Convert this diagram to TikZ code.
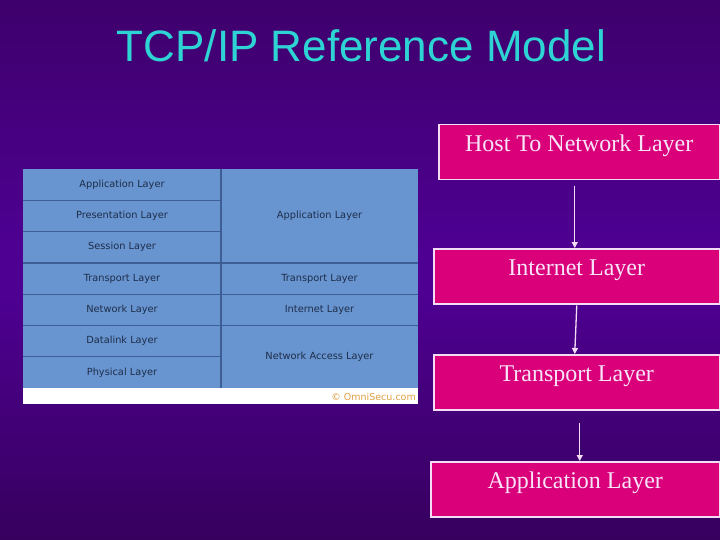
\documentclass[tikz,border=0pt]{standalone}
\usepackage{fontspec}
\setmainfont{Liberation Serif}
\newfontfamily\titlefont{Liberation Sans}
\newfontfamily\tabfont{DejaVu Sans}
\usetikzlibrary{arrows.meta}
\definecolor{bgtop}{HTML}{3E006C}
\definecolor{bgmid}{HTML}{4E0092}
\definecolor{bgbot}{HTML}{37005E}
\definecolor{titlecyan}{HTML}{2ED3D3}
\definecolor{tabfill}{HTML}{6895D0}
\definecolor{tabline}{HTML}{3D5F95}
\definecolor{tabtext}{HTML}{1E2D4A}
\definecolor{copyc}{HTML}{E0A040}
\definecolor{pinkfill}{HTML}{D9007A}
\definecolor{pinkline}{HTML}{F4DCF4}
\definecolor{pinktext}{HTML}{F8E4F8}
\tikzset{
  pbox/.style={draw=pinkline, line width=1.5pt, fill=pinkfill, text=pinktext,
    font=\fontsize{24}{27}\selectfont, inner xsep=0pt, inner ysep=0pt,
    text height=27pt, text depth=28pt, anchor=north west},
  flow/.style={draw=pinkline, line width=1.3pt, -{Triangle[length=6pt,width=6pt]}},
  tabtxt/.style={text=tabtext, font=\tabfont\fontsize{9.8}{11}\selectfont, inner sep=0pt},
  tabrule/.style={draw=tabline, line width=1.2pt}
}
\begin{document}
\begin{tikzpicture}[x=1pt,y=-1pt]
\useasboundingbox (0,0) rectangle (720,540);
\shade[top color=bgtop, bottom color=bgmid] (0,0) rectangle (720,250);
\fill[bgmid] (0,249) rectangle (720,291);
\shade[top color=bgmid, bottom color=bgbot] (0,290) rectangle (720,540);
% title
\node[text=titlecyan, font=\titlefont\fontsize{44}{50}\selectfont] (title) at (361.5,45.5) {TCP/IP Reference Model};
% OSI vs TCP/IP table
\fill[white] (23,388) rectangle (418,404);
\fill[tabfill] (23,169) rectangle (418,388);
\foreach \y in {200.3,231.6,262.9,294.1,325.4,356.7} {\draw[tabrule] (23,\y) -- (221,\y);}
\foreach \y in {262.9,294.1,325.4} {\draw[tabrule] (221,\y) -- (418,\y);}
\draw[tabrule] (221,169) -- (221,388);
\node[tabtxt] (osi7) at (122,184.6) {Application Layer};
\node[tabtxt] (osi6) at (122,215.9) {Presentation Layer};
\node[tabtxt] (osi5) at (122,247.2) {Session Layer};
\node[tabtxt] (osi4) at (122,278.5) {Transport Layer};
\node[tabtxt] (osi3) at (122,309.8) {Network Layer};
\node[tabtxt] (osi2) at (122,341.1) {Datalink Layer};
\node[tabtxt] (osi1) at (122,372.4) {Physical Layer};
\node[tabtxt] (tcp4) at (319.5,215.9) {Application Layer};
\node[tabtxt] (tcp3) at (319.5,278.5) {Transport Layer};
\node[tabtxt] (tcp2) at (319.5,309.8) {Internet Layer};
\node[tabtxt] (tcp1) at (319.5,356.7) {Network Access Layer};
\node[text=copyc, font=\tabfont\fontsize{9.5}{10}\selectfont, inner sep=0pt, anchor=east] (copy) at (416,397) {© OmniSecu.com};
% pink boxes
\node[pbox, minimum width=281pt] (b1) at (438,124) {Host To Network Layer};
\node[pbox, minimum width=286pt] (b2) at (433,248) {Internet Layer};
\node[pbox, minimum width=286pt] (b3) at (433,354) {Transport Layer};
\node[pbox, minimum width=289pt] (b4) at (430,461) {Application Layer};
% arrows
\draw[flow] ([xshift=-4.5pt,yshift=-6pt]b1.south) -- ([xshift=-2pt]b2.north);
\draw[flow] ([yshift=-1pt]b2.south) -- ([xshift=-2pt]b3.north);
\draw[flow] ([xshift=3pt,yshift=-12pt]b3.south) -- ([xshift=4.5pt]b4.north);
\end{tikzpicture}
\end{document}
